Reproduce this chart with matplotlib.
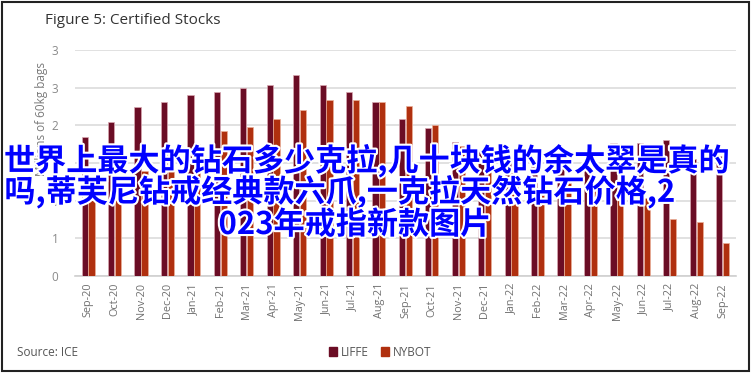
import matplotlib

matplotlib.use("Agg")
import matplotlib.pyplot as plt
import matplotlib.ticker as mticker
import matplotlib.patheffects as pe
from matplotlib.patches import Patch, Rectangle
import numpy as np

plt.rcParams["font.family"] = ["Open Sans", "DejaVu Sans"]

months = ["Sep-20", "Oct-20", "Nov-20", "Dec-20", "Jan-21", "Feb-21", "Mar-21",
          "Apr-21", "May-21", "Jun-21", "Jul-21", "Aug-21", "Sep-21", "Oct-21",
          "Nov-21", "Dec-21", "Jan-22", "Feb-22", "Mar-22", "Apr-22", "May-22",
          "Jun-22", "Jul-22", "Aug-22", "Sep-22"]
liffe = [1.85, 2.04, 2.24, 2.31, 2.40, 2.44, 2.50, 2.53, 2.67, 2.53, 2.44, 2.31, 2.09,
         1.97, 1.78, 1.66, 1.60, 1.55, 1.64, 1.56, 1.76, 1.76, 1.81, 1.55, 1.59]
nybot = [1.20, 1.27, 1.39, 1.64, 1.75, 1.92, 1.98, 2.08, 2.21, 2.33, 2.33, 2.31, 2.26,
         2.01, 1.72, 1.50, 1.39, 1.08, 1.23, 1.17, 1.08, 1.04, 0.76, 0.72, 0.44]
y_ticks = [0, 0.5, 1, 1.5, 2, 2.5, 3]

c_liffe = "#6B0D25"
c_nybot = "#B0300F"

fig = plt.figure(figsize=(7.53, 3.75), dpi=100)
ax = fig.add_axes([75 / 753, 1 - 276 / 375, 661 / 753, 226 / 375])

x = np.arange(len(months))
w = 0.235
ax.bar(x - 0.135, liffe, width=w, color=c_liffe, edgecolor="#d8a8b2", linewidth=0.5, zorder=3)
ax.bar(x + 0.125, nybot, width=w, color=c_nybot, edgecolor="#eab09a", linewidth=0.5, zorder=3)

ax.set_xlim(-0.5, len(months) - 0.5)
ax.set_ylim(0, 3)
ax.set_yticks(y_ticks)
# labels rounded half-up to whole numbers, as in the source sheet
ax.yaxis.set_major_formatter(mticker.FuncFormatter(lambda v, p: str(int(np.floor(v + 0.5)))))
ax.set_xticks(x)
ax.set_xticklabels(months, rotation=90, fontsize=7.8, color="#707070")
ax.tick_params(axis="y", length=0, pad=12, labelsize=8.5, labelcolor="#8a8a8a")
ax.tick_params(axis="x", length=0, pad=5)
ax.grid(axis="y", color="#dcdcdc", linewidth=1.2, zorder=0)
for s in ["top", "right", "left"]:
    ax.spines[s].set_visible(False)
ax.spines["bottom"].set_color("#d0d0d0")
ax.spines["bottom"].set_linewidth(1.2)

fig.text(45 / 753, 1 - 20 / 375, "Figure 5: Certified Stocks", fontsize=11,
         color="#333333", ha="left", va="center")
fig.text(42 / 753, 1 - 119 / 375, "Millions of 60kg bags", fontsize=8.5,
         color="#7a7a7a", rotation=90, ha="center", va="center")
fig.text(17 / 753, 1 - 353 / 375, "Source: ICE", fontsize=8.5,
         color="#555555", ha="left", va="center")

handles = [Patch(color=c_liffe, label="LIFFE"), Patch(color=c_nybot, label="NYBOT")]
fig.legend(handles=handles, loc="center", bbox_to_anchor=(380 / 753, 1 - 352 / 375),
           ncol=2, frameon=False, fontsize=8.5, handlelength=0.7, handleheight=0.7,
           handletextpad=0.3, columnspacing=1.0, labelcolor="#555555")

# outer frame
fig.patches.append(Rectangle((2 / 753, 4 / 375), 747 / 753, 369 / 375,
                             transform=fig.transFigure, fill=False,
                             edgecolor="#222222", linewidth=1.5))

# overlaid caption
cjk = ["Noto Sans CJK SC", "DejaVu Sans"]
stroke = [pe.withStroke(linewidth=3, foreground="white")]
lines = [("世界上最大的钻石多少克拉,几十块钱的余太翠是真的", 367, 161),
         ("吗,蒂芙尼钻戒经典款六爪,一克拉天然钻石价格,2", 340, 192),
         ("023年戒指新款图片", 355, 225)]
for txt, lx, ly in lines:
    fig.text(lx / 753, 1 - ly / 375, txt, family=cjk, fontsize=22.4, fontweight="bold",
             color="#0000FF", ha="center", va="center", path_effects=stroke, zorder=10)

fig.savefig("out.png", dpi=100)
plt.close(fig)
